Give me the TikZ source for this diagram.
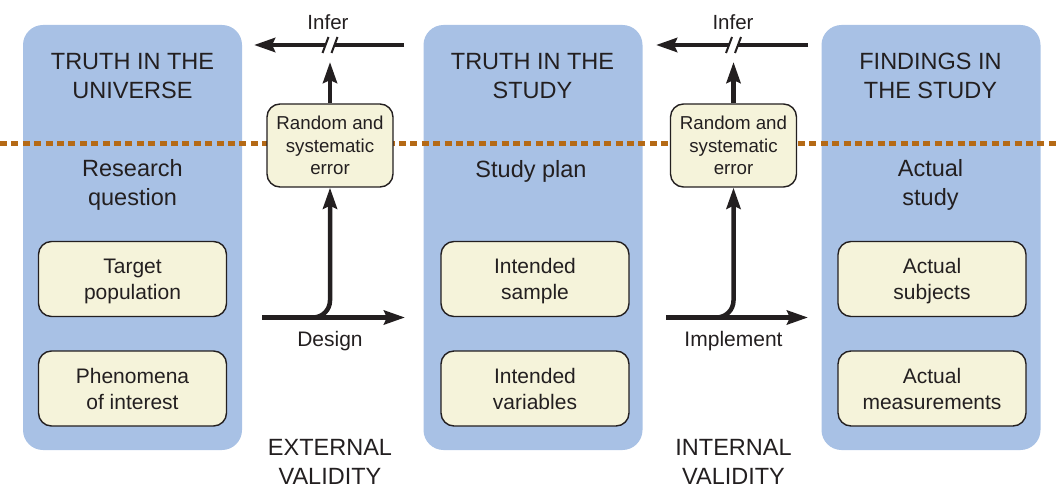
\documentclass[tikz,border=0pt]{standalone}
\usepackage{fontspec}
\setmainfont{Liberation Sans}
\usetikzlibrary{arrows.meta}
\definecolor{panelblue}{RGB}{168,193,229}
\definecolor{cream}{RGB}{245,243,218}
\definecolor{dashbrown}{RGB}{181,106,22}
\definecolor{ink}{RGB}{35,31,32}
\begin{document}
\begin{tikzpicture}[x=1pt,y=-1pt,
  panel/.style={fill=panelblue, rounded corners=20pt, draw=none, minimum width=219pt, minimum height=425pt, inner sep=0pt},
  itembox/.style={draw=ink, line width=1.4pt, fill=cream, rounded corners=13pt, minimum width=188pt, minimum height=75pt, align=center, font=\fontsize{21}{26}\selectfont, text=ink, inner sep=0pt, text depth=0pt},
  errbox/.style={draw=ink, line width=1.4pt, fill=cream, rounded corners=13pt, minimum width=126pt, minimum height=83pt, align=center, font=\fontsize{18.7}{22.5}\selectfont, text=ink, inner sep=0pt},
  title/.style={align=center, text=ink, font=\fontsize{23.5}{29}\selectfont, inner sep=0pt},
  sub/.style={align=center, text=ink, font=\fontsize{23.5}{28.5}\selectfont, inner sep=0pt},
  lbl/.style={text=ink, font=\fontsize{21}{26}\selectfont, inner sep=0pt},
  inferlbl/.style={text=ink, font=\fontsize{20.5}{25}\selectfont, inner sep=0pt},
  arr/.style={draw=ink, line width=4.5pt, -{Stealth[length=21pt,width=14pt,inset=3pt]}},
  plainline/.style={draw=ink, line width=4.5pt},
  slash/.style={draw=ink, line width=2pt},
]
\useasboundingbox (0,0) rectangle (1056,486);

% panels
\node[panel] (p1) at (132.5,237.5) {};
\node[panel] (p2) at (533,237.5) {};
\node[panel] (p3) at (931,237.5) {};

% dashed divider
\coordinate (dl) at (0,143.3);
\coordinate (dr) at (1056,143.3);
\draw[dashbrown, line width=4.5pt, dash pattern=on 7pt off 4.4pt] (dl) -- (dr);

% titles
\node[title] (t1) at (132.5,76.2) {TRUTH IN THE\\UNIVERSE};
\node[title] (t2) at (532.5,76.2) {TRUTH IN THE\\STUDY};
\node[title] (t3) at (930.5,76.2) {FINDINGS IN\\THE STUDY};

% subtitles
\node[sub] (s1) at (132.5,185) {Research\\question};
\node[sub] (s2) at (531,171) {Study plan};
\node[sub] (s3) at (930.5,185) {Actual\\study};

% item boxes
\node[itembox] (b11) at (132.5,279) {Target\\population};
\node[itembox] (b12) at (132.5,388.5) {Phenomena\\of interest};
\node[itembox] (b21) at (535,279) {Intended\\sample};
\node[itembox] (b22) at (535,388.5) {Intended\\variables};
\node[itembox] (b31) at (932,279) {Actual\\subjects};
\node[itembox] (b32) at (932,388.5) {Actual\\measurements};

% error boxes
\node[errbox] (e1) at (330,145.5) {Random and\\systematic\\error};
\node[errbox] (e2) at (733.5,145.5) {Random and\\systematic\\error};

% design arrow
\coordinate (ds) at (262,317.5);
\coordinate (de) at (405,317.5);
\draw[arr] (ds) -- (de);
\draw[arr, rounded corners=17pt] (ds) -| (e1);
\node[lbl] (dl1) at (330,340.7) {Design};

% implement arrow
\coordinate (is) at (666,317.5);
\coordinate (ie) at (808,317.5);
\draw[arr] (is) -- (ie);
\draw[arr, rounded corners=17pt] (is) -| (e2);
\node[lbl] (il1) at (733.5,341) {Implement};

% infer arrows
\coordinate (r1a) at (404,45);
\coordinate (r1b) at (334.5,45);
\coordinate (l1a) at (325.5,45);
\coordinate (l1b) at (254,45);
\draw[plainline] (r1a) -- (r1b);
\draw[arr] (l1a) -- (l1b);
\draw[slash] (322.5,53) -- (328.5,37);
\draw[slash] (331.5,53) -- (337.5,37);
\coordinate (u1) at (330,62);
\draw[arr] (e1) -- (u1);
\node[inferlbl] (if1) at (328,21.7) {Infer};

\coordinate (r2a) at (808,45);
\coordinate (r2b) at (738,45);
\coordinate (l2a) at (729,45);
\coordinate (l2b) at (656,45);
\draw[plainline] (r2a) -- (r2b);
\draw[arr] (l2a) -- (l2b);
\draw[slash] (726,53) -- (732,37);
\draw[slash] (735,53) -- (741,37);
\coordinate (u2) at (733.5,62);
\draw[arr] (e2) -- (u2);
\node[inferlbl] (if2) at (733,21.7) {Infer};

% validity labels
\node[title] (ev) at (330,462) {EXTERNAL\\VALIDITY};
\node[title] (iv) at (733.5,462) {INTERNAL\\VALIDITY};
\end{tikzpicture}
\end{document}
